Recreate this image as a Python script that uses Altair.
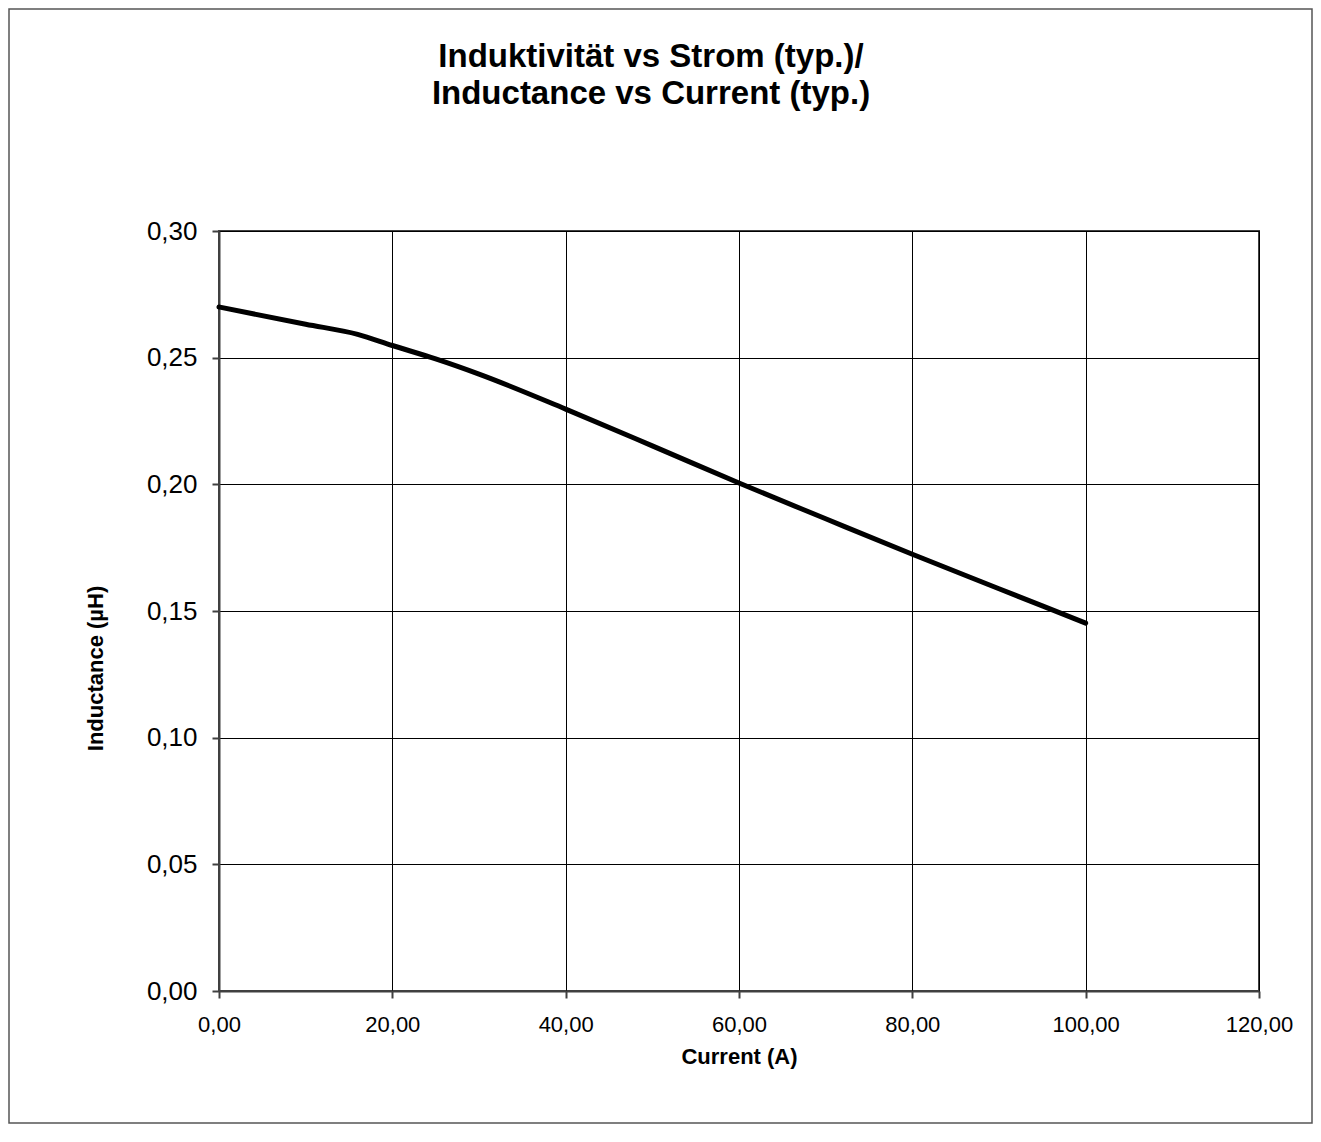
import altair as alt
import pandas as pd

current = [0, 10, 16, 20, 25, 30, 40, 50, 60, 70, 80, 90, 100]
inductance = [0.270, 0.2632, 0.2592, 0.2548, 0.2495, 0.2435, 0.2297, 0.2152, 0.2005, 0.1864, 0.1724, 0.1588, 0.1452]

title_lines = ["Induktivität vs Strom (typ.)/", "Inductance vs Current (typ.)"]
x_title = "Current (A)"
y_title = "Inductance (µH)"

df = pd.DataFrame({"current": current, "inductance": inductance})

FONT = "Liberation Sans"

line = alt.Chart(df).mark_line(color="black", strokeWidth=5, interpolate="monotone", strokeCap="round").encode(
    x=alt.X("current:Q",
            scale=alt.Scale(domain=[0, 120], nice=False),
            axis=alt.Axis(values=[0, 20, 40, 60, 80, 100, 120],
                          labelExpr="replace(format(datum.value, '.2f'), '.', ',')",
                          title=x_title, titleFontSize=22, titleFont=FONT, titleFontWeight="bold",
                          titleBaseline="alphabetic", titleY=72,
                          labelFontSize=22, labelFont=FONT, labelPadding=16, labelFlush=False,
                          tickSize=7, labelColor="black", titleColor="black")),
    y=alt.Y("inductance:Q",
            scale=alt.Scale(domain=[0, 0.30], nice=False),
            axis=alt.Axis(values=[0, 0.05, 0.10, 0.15, 0.20, 0.25, 0.30],
                          labelExpr="replace(format(datum.value, '.2f'), '.', ',')",
                          title=y_title, titleFontSize=22, titleFont=FONT, titleFontWeight="bold",
                          titleAngle=270, titleAlign="center", titleBaseline="alphabetic",
                          titleX=-117, titleY=437,
                          labelFontSize=26, labelFont=FONT, labelPadding=15, labelFlush=False,
                          tickSize=7, labelColor="black", titleColor="black")),
)

frame = alt.Chart(pd.DataFrame({"a": [0]})).mark_rect(fill=None, stroke="#555555", strokeWidth=1.5).encode(
    x=alt.value(-210), x2=alt.value(1093), y=alt.value(-222), y2=alt.value(892)
)

chart = alt.layer(frame, line).properties(
    width=1040, height=760,
    background="white",
    autosize=alt.AutoSizeParams(type="none"),
    padding={"left": 211, "top": 223, "right": 54, "bottom": 134},
    title=alt.TitleParams(text=title_lines, fontSize=33, font=FONT, fontWeight="bold",
                          lineHeight=37, anchor="middle", frame="group", dx=-88, offset=-103,
                          color="black"),
).configure_view(stroke="#404040", strokeWidth=2).configure_axis(
    gridColor="black", gridWidth=1, gridOpacity=1,
    domainColor="#404040", domainWidth=2,
    tickColor="#404040", tickWidth=2,
)

chart.save("out.html", embed_options={"renderer": "svg", "actions": False})
